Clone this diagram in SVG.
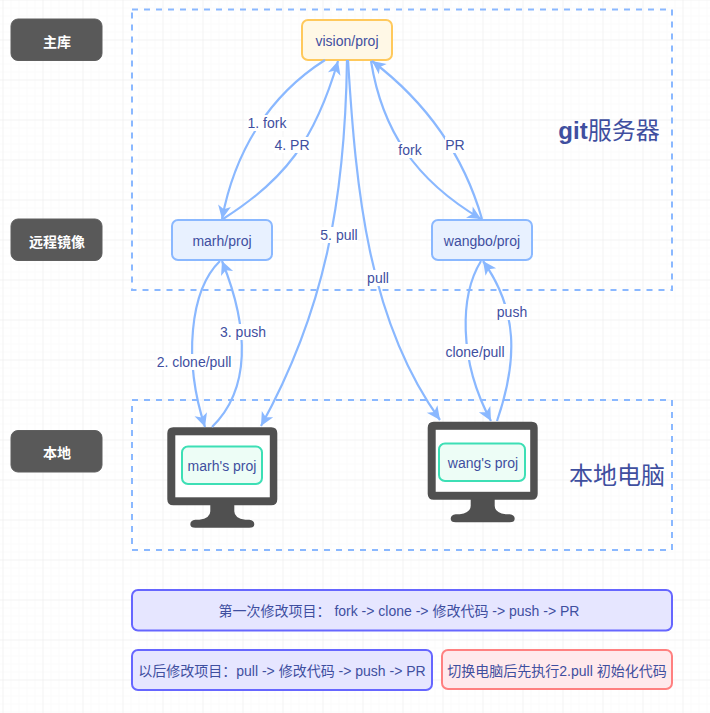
<svg xmlns="http://www.w3.org/2000/svg" xmlns:xlink="http://www.w3.org/1999/xlink" width="710" height="713" viewBox="0 0 710 713">
<style>
text{font-family:"Liberation Sans","Noto Sans CJK SC",sans-serif;font-size:14px;fill:#3f4f9f;text-anchor:middle;dominant-baseline:central}
.tag rect{fill:#595959;stroke:#5f5f5f;stroke-width:1}
.tag text{fill:#fff;font-weight:700;font-family:"Noto Sans CJK SC",sans-serif;font-size:14px}
.zone{fill:none;stroke:#8ab8ff;stroke-width:2;stroke-dasharray:6 6}
.big{font-size:24px}
.big tspan.b{font-weight:700}
.n rect{stroke-width:2}
.gold rect{fill:#fff8e6;stroke:#ffc95c}
.blue rect{fill:#e8f1ff;stroke:#8ab8ff}
.green rect{fill:#edfdf6;stroke:#3ddfb5}
.violet rect{fill:#e6e6ff;stroke:#6666ff}
.red rect{fill:#ffe9ec;stroke:#ff8080}
.c{fill:none;stroke:#8ab8ff;stroke-width:2.200;marker-end:url(#ah)}
.lb{fill:#fff}
</style>
<defs>
<pattern id="minor" width="8" height="8" patternUnits="userSpaceOnUse" patternTransform="translate(2.5 -0.5)"><path d="M8 0H0V8" fill="none" stroke="#f8f8f8" stroke-width="1"/></pattern>
<pattern id="major" width="40" height="40" patternUnits="userSpaceOnUse" patternTransform="translate(2.5 -0.5)"><path d="M40 0H0V40" fill="none" stroke="#ececec" stroke-width="1"/></pattern>
<marker id="ah" markerUnits="userSpaceOnUse" markerWidth="16" markerHeight="16" viewBox="0 0 16 16" refX="15" refY="8" orient="auto"><path d="M15 8L1.500 1.500L5 8L1.500 14.500Z" fill="#8ab8ff"/></marker>
<g id="monitor">
<path d="M6 0H104Q110 0 110 6V72Q110 78 104 78H67V84Q67 91 78 92.500H82Q87 93 87 97Q87 100.500 82 100.500H28Q23 100.500 23 97Q23 93 28 92.500H32Q43 91 43 84V78H6Q0 78 0 72V6Q0 0 6 0Z" fill="#505050"/>
<rect x="8" y="8" width="94.500" height="62" fill="#fff"/>
</g>
</defs>
<rect width="710" height="713" fill="#fff"/>
<rect width="710" height="713" fill="url(#minor)"/>
<rect width="710" height="713" fill="url(#major)"/>

<g id="zone-git"><rect class="zone" x="132" y="9.500" width="540" height="280.500"/><text class="big" x="609" y="130"><tspan class="b">git</tspan>服务器</text></g>
<g id="zone-local"><rect class="zone" x="132" y="400" width="540" height="150"/><text class="big" x="617" y="475">本地电脑</text></g>

<g id="tag-main" class="tag"><rect x="11" y="19" width="91" height="41.500" rx="7"/><text x="57" y="41">主库</text></g>
<g id="tag-remote" class="tag"><rect x="11" y="219" width="91" height="41.500" rx="7"/><text x="57" y="240.500">远程镜像</text></g>
<g id="tag-local" class="tag"><rect x="11" y="430.500" width="91" height="41.500" rx="7"/><text x="57" y="452">本地</text></g>

<g id="node-vision" class="n gold"><rect x="302" y="20" width="90" height="40" rx="6"/><text x="347" y="41">vision/proj</text></g>
<g id="node-marh" class="n blue"><rect x="172" y="220" width="100" height="40" rx="6"/><text x="222" y="241">marh/proj</text></g>
<g id="node-wangbo" class="n blue"><rect x="432" y="220" width="100" height="40" rx="6"/><text x="482" y="241">wangbo/proj</text></g>

<g id="node-marh-local"><use xlink:href="#monitor" href="#monitor" x="167.300" y="427.300"/><g class="n green"><rect x="182" y="446.500" width="80" height="37.500" rx="6"/><text x="222" y="466">marh's proj</text></g></g>
<g id="node-wang-local"><use xlink:href="#monitor" href="#monitor" x="427.700" y="421.800"/><g class="n green"><rect x="439" y="443.500" width="86" height="37.500" rx="6"/><text x="483" y="463">wang's proj</text></g></g>

<g id="connectors">
<path class="c" d="M325 60C270 95 235 150 222 219"/>
<path class="c" d="M223 219C285 180 315 140 338 61"/>
<path class="c" d="M347 60C345 200 325 310 261 426"/>
<path class="c" d="M348 60C356 190 368 320 440 420"/>
<path class="c" d="M371 61C382 130 415 180 481 219"/>
<path class="c" d="M482 219C465 160 430 105 372 61"/>
<path class="c" d="M220 261C190 290 183 360 205 427"/>
<path class="c" d="M212 427C250 390 250 330 222 261"/>
<path class="c" d="M481 261C460 295 458 360 491 421"/>
<path class="c" d="M497 421C518 360 518 310 483 261"/>
</g>
<g id="connector-labels">
<rect class="lb" x="247" y="115" width="40" height="16"/><text x="267" y="123">1. fork</text>
<rect class="lb" x="274" y="137" width="36" height="16"/><text x="292" y="145">4. PR</text>
<rect class="lb" x="320" y="227" width="38" height="16"/><text x="339" y="235">5. pull</text>
<rect class="lb" x="398" y="142" width="24" height="16"/><text x="410" y="150">fork</text>
<rect class="lb" x="445" y="137" width="20" height="16"/><text x="455" y="145">PR</text>
<rect class="lb" x="367" y="270" width="23" height="16"/><text x="378" y="278">pull</text>
<rect class="lb" x="157" y="354" width="75" height="16"/><text x="194" y="362">2. clone/pull</text>
<rect class="lb" x="220" y="324" width="46" height="16"/><text x="243" y="332">3. push</text>
<rect class="lb" x="445" y="344" width="60" height="16"/><text x="475" y="352">clone/pull</text>
<rect class="lb" x="497" y="304" width="30" height="16"/><text x="512" y="312">push</text>
</g>

<g id="note-first" class="n violet"><rect x="132" y="590" width="540" height="40.500" rx="6"/><text x="399" y="611">第一次修改项目： fork -&gt; clone -&gt; 修改代码 -&gt; push -&gt; PR</text></g>
<g id="note-later" class="n violet"><rect x="132" y="650" width="300" height="40" rx="6"/><text x="282" y="671">以后修改项目：pull -&gt; 修改代码 -&gt; push -&gt; PR</text></g>
<g id="note-switch" class="n red"><rect x="442" y="650" width="230" height="39" rx="6"/><text x="557" y="671">切换电脑后先执行2.pull 初始化代码</text></g>
</svg>
